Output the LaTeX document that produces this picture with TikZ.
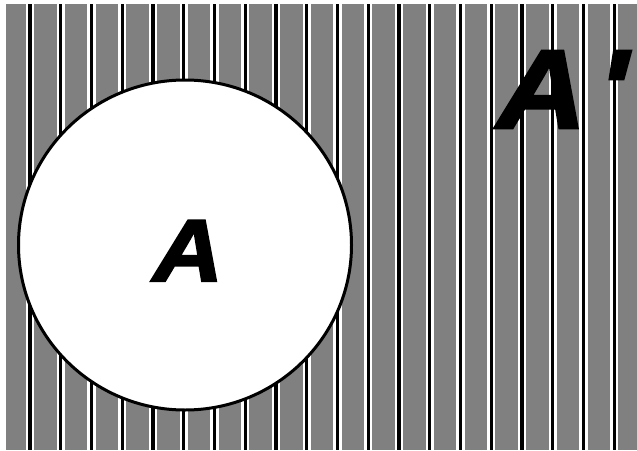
\documentclass[tikz,border=0pt]{standalone}
\usepackage{fontspec}
\usetikzlibrary{shapes.geometric}
\newfontfamily\letterfont[BoldItalicFont={Liberation Sans Bold Italic},BoldItalicFeatures={FakeBold=2.5,FakeStretch=1.1}]{Liberation Sans}
\begin{document}
\begin{tikzpicture}[x=1pt,y=-1pt,
  texture/.style={fill=black!50},
  gapband/.style={fill=white},
  stripeline/.style={fill=black},
  ring/.style={draw=black,fill=white,line width=3pt},
  bigletter/.style={inner sep=0pt,font=\letterfont\bfseries\itshape\fontsize{88}{88}\selectfont}
]
\useasboundingbox (0,0) rectangle (637,450);
\fill[white] (0,0) rectangle (637,450);
\fill[texture] (6,4) rectangle (637,450);
\foreach \k in {0,...,19}{
  \pgfmathsetmacro{\xx}{30+30.75*\k}
  \fill[gapband] (\xx-4.2,4) rectangle (\xx+4.2,450);
  \fill[stripeline] (\xx-1.7,4) rectangle (\xx+1.7,450);
}
\node[ring,ellipse,minimum width=333pt,minimum height=330pt,inner sep=0pt] (disc) at (185,245) {};
\node[bigletter,anchor=base] (a) at (188,281) {A};
\node[bigletter,anchor=base west,font=\letterfont\bfseries\itshape\fontsize{112}{112}\selectfont] (aprime) at (497,128) {A\kern12pt'};
\end{tikzpicture}
\end{document}
